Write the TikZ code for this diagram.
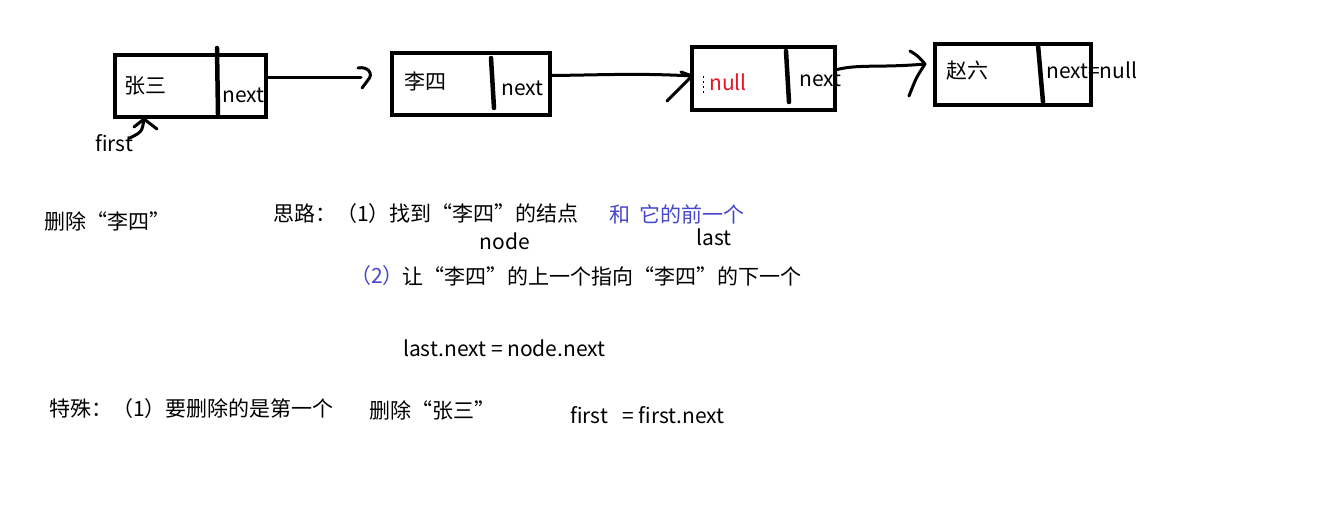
\documentclass[tikz,border=0pt]{standalone}
\usepackage{fontspec}
\setmainfont{Noto Sans CJK SC}
\definecolor{nullred}{RGB}{230,20,40}
\definecolor{noteblue}{RGB}{70,70,205}
\begin{document}
\begin{tikzpicture}[x=1pt,y=-1pt,
  cell/.style={draw=black,line width=4pt,minimum width=#1,minimum height=62pt,inner sep=0pt},
  divider/.style={line width=4.5pt,line cap=round},
  stroke/.style={line width=3pt,line cap=round,line join=round},
  txt/.style={inner sep=0pt,anchor=west,font=\fontsize{21}{24}\selectfont},
  lbl/.style={inner sep=0pt,font=\fontsize{21}{24}\selectfont}]
\useasboundingbox (0,0) rectangle (1319,522);
% boxes
\node[cell=151pt] (b1) at (190.5,85.5) {};
\node[cell=158pt] (b2) at (471,83.5) {};
\node[cell=143pt,minimum height=63pt] (b3) at (763.5,78.5) {};
\node[cell=156pt,minimum height=61pt] (b4) at (1013,74.5) {};
% dividers
\draw[divider] (217,48) -- (218,114);
\draw[divider] (491,58) -- (494,108);
\draw[divider] (786,51) -- (789,102);
\draw[divider] (1038,45) -- (1043,102);
% cell texts
\node[txt] (t1) at (124,86) {张三};
\node[txt] (n1) at (222,95) {next};
\node[txt] (t2) at (404,81) {李四};
\node[txt] (n2) at (501,88) {next};
\node[txt,text=nullred] (t3) at (709,82) {null};
\node[txt] (n3) at (799,79) {next};
\node[txt] (t4) at (946,71) {赵六};
\node[txt] (n4) at (1046,70) {next=null};
\node[txt] (first) at (95,143) {first};
% small erased marks in box 3
\draw[line width=1pt,dash pattern=on 2pt off 3pt] (703,76) -- (703,93);
% arrow 1
\coordinate (h1) at (361,77);
\draw[stroke] ([yshift=8.5pt]b1.east) -- (h1);
\draw[stroke] (358,68) .. controls (368,66) and (374,74) .. (368,80) .. controls (365,84) .. (362,88);
% arrow 2
\coordinate (h2) at (692,76);
\draw[stroke] ([yshift=8pt]b2.east) .. controls (600,75) and (640,73) .. (h2);
\draw[stroke] (667,101) -- (h2) -- (681,72);
% arrow 3
\coordinate (h3) at (925,64);
\draw[stroke] ([yshift=9pt]b3.east) .. controls (860,64) and (880,68) .. (h3);
\draw[stroke] (910,51) .. controls (918,56) .. (h3) .. controls (916,78) .. (909,96);
% first arrow
\coordinate (h4) at (144,119);
\draw[stroke] ([xshift=-4pt,yshift=-4pt]first.north east) .. controls (142,132) .. (h4);
\draw[stroke] (134,127) -- (h4) -- (157,129);
% notes
\node[txt] (d1) at (44,221) {删除“李四”};
\node[txt] (s1) at (273,214) {思路：（1）找到“李四”的结点};
\node[txt,text=noteblue] (s2) at (609,214) {和\ \ 它的前一个};
\node[lbl] (nd) at (505,241) {node};
\node[lbl] (ls) at (714,237) {last};
\node[txt,text=noteblue] (s3a) at (350,276) {（2）};
\node[txt] (s3) at (402,276) {让“李四”的上一个指向“李四”的下一个};
\node[txt] (c1) at (403,348) {last.next = node.next};
\node[txt] (sp) at (49,409) {特殊：（1）要删除的是第一个};
\node[txt] (d2) at (369,410) {删除“张三”};
\node[txt] (c2) at (570,415) {first\ \ \ = first.next};
\end{tikzpicture}
\end{document}
